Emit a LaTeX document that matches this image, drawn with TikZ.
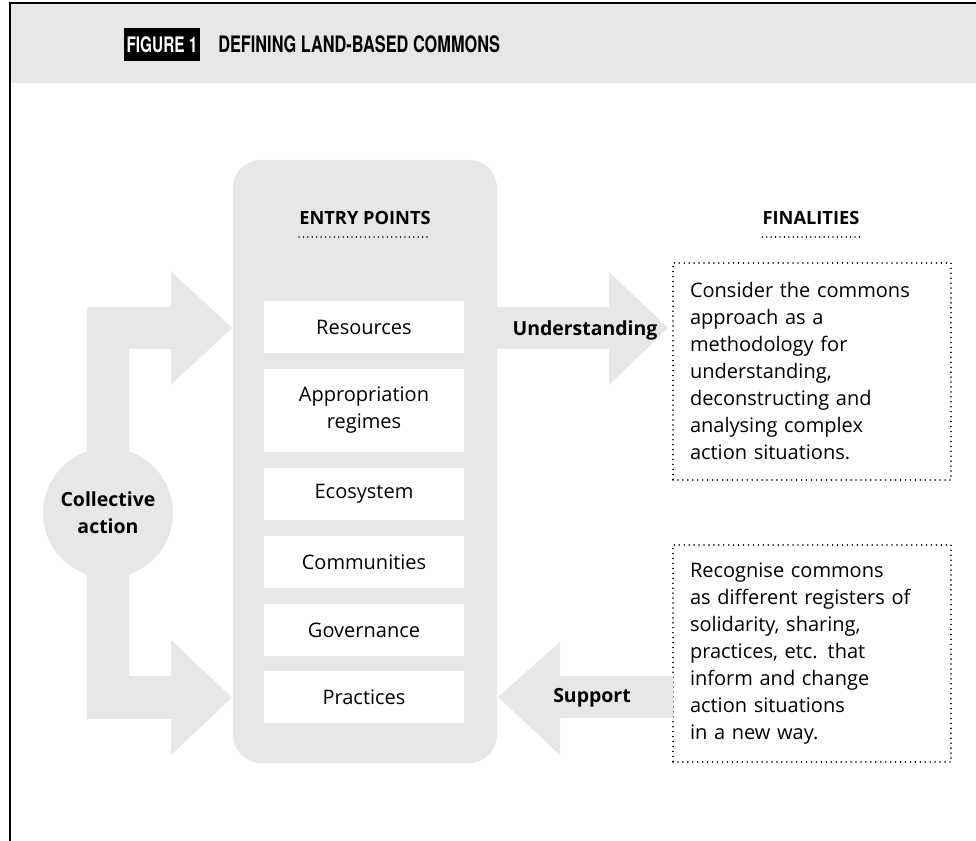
\documentclass[tikz,border=0pt]{standalone}
\usepackage{fontspec}
\setmainfont{Open Sans}
\newfontfamily\condfont{TeX Gyre Heros}[FakeStretch=0.72]
\usetikzlibrary{calc}
\definecolor{pgrey}{HTML}{E6E7E8}
\begin{document}
\begin{tikzpicture}[x=0.75pt,y=-0.75pt,
  body/.style={font=\fontsize{15}{20.25}\selectfont},
  lbl/.style={font=\bfseries\fontsize{14.6}{20.25}\selectfont, inner sep=0pt},
  head/.style={font=\bfseries\fontsize{13.7}{16}\selectfont, inner sep=0pt},
  entrybox/.style={fill=white, minimum width=150pt, minimum height=39pt, inner sep=0pt, align=center, body},
  finbox/.style={draw=black, line width=1.2pt, dash pattern=on 0.01pt off 3.7pt, line cap=round,
     text width=183pt, inner xsep=12.75pt, inner ysep=0pt, minimum height=162.75pt, align=left, body},
  dotline/.style={draw=black, line width=1.1pt, dash pattern=on 0.01pt off 3.3pt, line cap=round},
  bigarrow/.style={fill=pgrey}
]
\useasboundingbox (0,0) rectangle (976,841);
% header band and frame
\fill[pgrey] (10,3) rectangle (976,83);
\draw[black, line width=1.1pt] (976,3) -- (10,3) -- (10,841);
\node[fill=black, text=white, minimum width=57pt, minimum height=24.75pt, inner sep=0pt,
  font=\condfont\bfseries\fontsize{16}{18}\selectfont] (figlbl) at (162,44.5) {FIGURE 1};
\node[anchor=west, inner sep=0pt, font=\condfont\bfseries\fontsize{17}{20}\selectfont] (title) at (218,44.5) {DEFINING LAND-BASED COMMONS};

% entry points panel
\fill[pgrey, rounded corners=21pt] (233,160) rectangle (497,763);
\node[head] (ep) at (365,218) {ENTRY POINTS};
\draw[dotline] ($(ep.south west)+(0,12)$) -- ($(ep.south east)+(0,12)$);

\node[entrybox] (res) at (364,327) {Resources};
\node[entrybox, minimum height=62.25pt] (app) at (364,410.5) {Appropriation\\regimes};
\node[entrybox] (eco) at (364,494) {Ecosystem};
\node[entrybox] (com) at (364,562) {Communities};
\node[entrybox] (gov) at (364,630) {Governance};
\node[entrybox] (pra) at (364,697.5) {Practices};

% collective action: bracket arrows + circle
\fill[bigarrow] (87,307) -- (171,307) -- (171,271) -- (232,328) -- (171,385) -- (171,349)
  -- (129,349) -- (129,676) -- (171,676) -- (171,640) -- (232,697.5) -- (171,755) -- (171,719)
  -- (87,719) -- cycle;
\node[circle, fill=pgrey, minimum size=97.5pt, inner sep=0pt, align=center, lbl] (ca) at (108,513) {Collective\\action};

% finalities
\node[head] (fin) at (811,218) {FINALITIES};
\draw[dotline] ($(fin.south west)+(0,12)$) -- ($(fin.south east)+(0,12)$);

\node[finbox] (f1) at (812,371.5) {Consider the commons\\approach as a\\methodology for\\understanding,\\deconstructing and\\analysing complex\\action situations.};
\node[finbox] (f2) at (812,653.5) {Recognise commons\\as different registers of\\solidarity, sharing,\\practices, etc. that\\inform and change\\action situations\\in a new way.};

% understanding arrow (panel -> f1)
\fill[bigarrow] (497,307) -- (609,307) -- (609,272) -- (668,328) -- (609,385) -- (609,349) -- (497,349) -- cycle;
\node[lbl] (und) at (585,330) {Understanding};

% support arrow (f2 -> panel)
\fill[bigarrow] (673,676) -- (560,676) -- (560,642) -- (498,697) -- (560,755) -- (560,718) -- (673,718) -- cycle;
\node[lbl] (sup) at (592,698) {Support};
\end{tikzpicture}
\end{document}
